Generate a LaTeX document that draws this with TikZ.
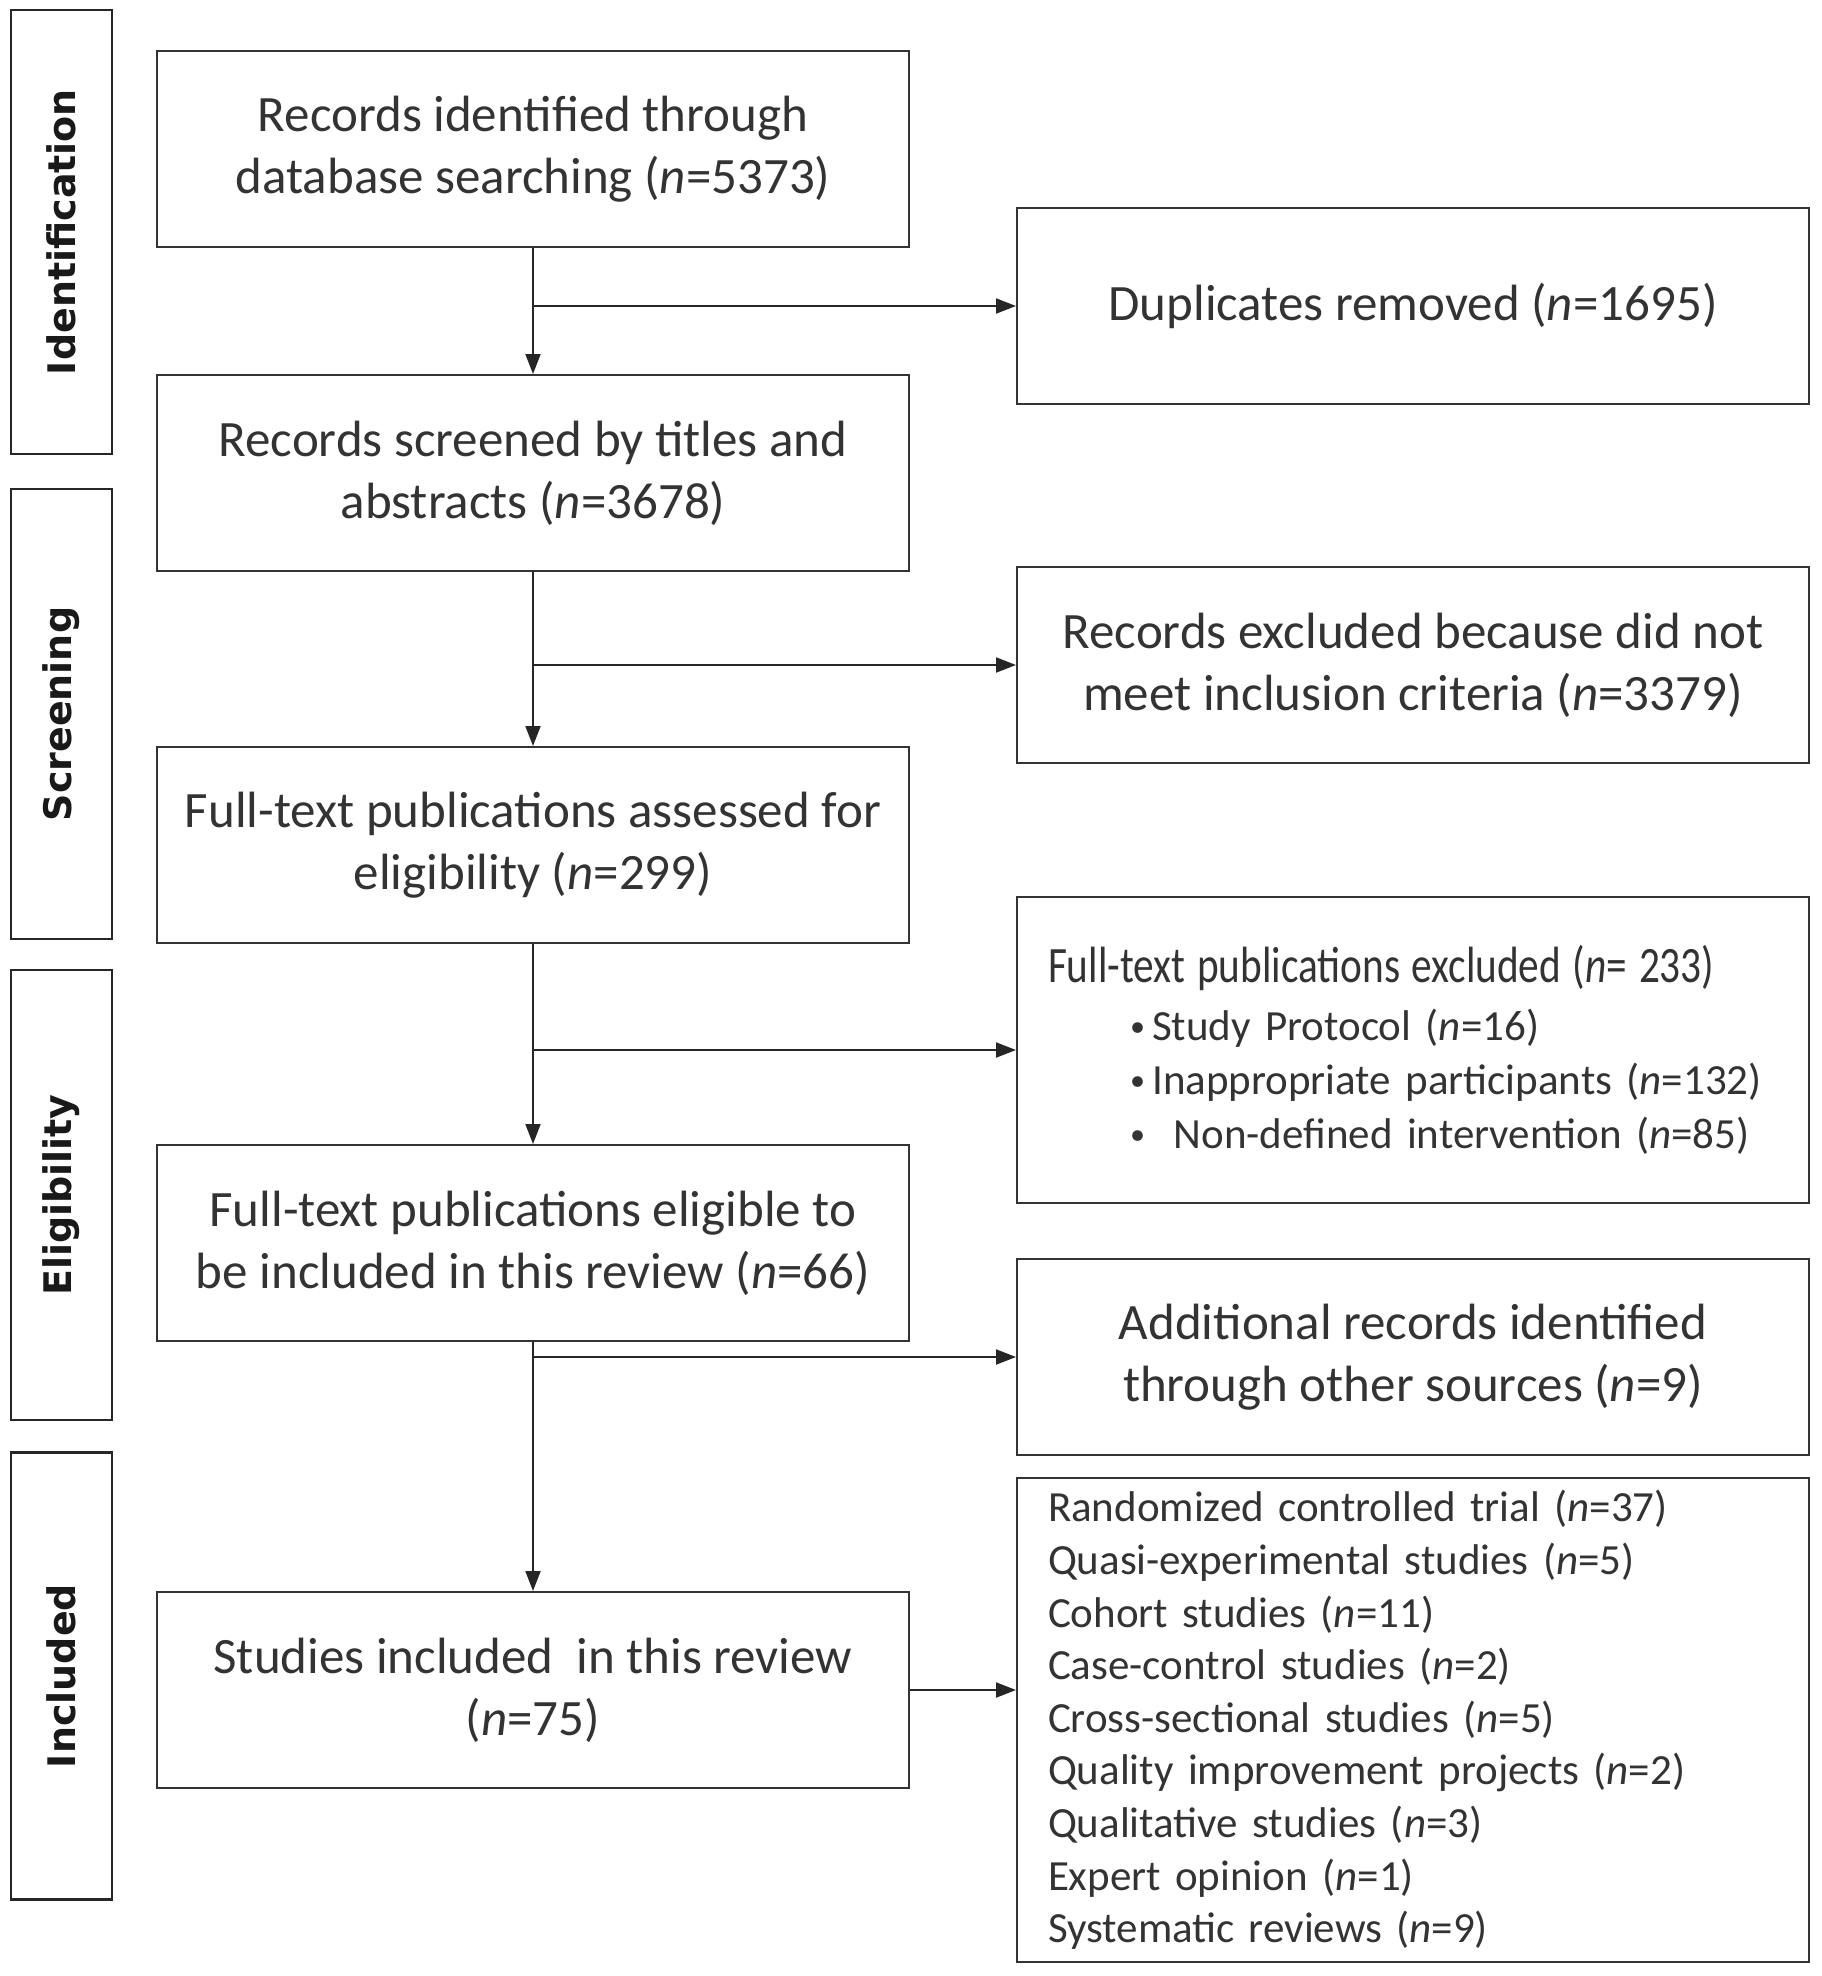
\documentclass[tikz,border=0pt]{standalone}
\usepackage{fontspec}
\setmainfont{Carlito}
\newfontfamily\stagefont{DejaVu Sans}
\usetikzlibrary{arrows.meta, positioning}

\newcommand{\smallbullet}{\raisebox{0.1em}{\scalebox{0.7}{•}}}

\begin{document}
\begin{tikzpicture}[x=1pt, y=-1pt, node distance=300pt, on grid, auto,
    box/.style={draw=black!80, line width=2pt, minimum width=752pt, minimum height=196pt,
        align=center, text=black!80, font=\fontsize{51}{62}\selectfont},
    side/.style={box, minimum width=792pt},
    stage/.style={draw=black!85, line width=2.5pt, minimum height=101pt, rotate=90,
        text=black!90, font=\stagefont\bfseries\fontsize{38}{46}\selectfont},
    flow/.style={-{Triangle[length=20pt, width=15pt]}, draw=black!85, line width=2pt}]
    \useasboundingbox (0,0) rectangle (1821,1976);

    % stages
    \node [stage, minimum width=444pt] (s_id) at (61.5,232) {Identification};
    \node [stage, minimum width=450pt] (s_sc) at (61.5,714) {Screening};
    \node [stage, minimum width=450pt] (s_el) at (61.5,1195) {Eligibility};
    \node [stage, minimum width=447pt] (s_in) at (61.5,1676) {Included};

    % main column
    \node [box] (q_rec) at (533,149) {Records identified through\\database searching (\textit{n}=5373)};
    \node [box] [below=324pt of q_rec] (q_scr) {Records screened by titles and\\abstracts (\textit{n}=3678)};
    \node [box] [below=372pt of q_scr] (q_ft) {Full-text publications assessed for\\eligibility (\textit{n}=299)};
    \node [box] [below=398pt of q_ft] (q_elg) {Full-text publications eligible to\\be included in this review (\textit{n}=66)};
    \node [box] [below=447pt of q_elg] (q_inc) {Studies included\ \ in this review\\(\textit{n}=75)};

    % branch points
    \coordinate [below=157pt of q_rec] (b_1);
    \coordinate [below=192pt of q_scr] (b_2);
    \coordinate [below=205pt of q_ft] (b_3);
    \coordinate [below=114pt of q_elg] (b_4);

    % side column
    \node [side] [right=880pt of b_1, anchor=center] (q_dup) {Duplicates removed (\textit{n}=1695)};
    \node [side] [right=880pt of b_2, anchor=center] (q_exc) {Records excluded because did not\\meet inclusion criteria (\textit{n}=3379)};
    \node [side, minimum height=306pt, text width=730pt, align=left, font=\fontsize{43}{54}\selectfont]
        [right=880pt of b_3, anchor=center] (q_ftx)
        {{\fontsize{51}{62}\selectfont\scalebox{0.81}[1]{Full-text publications excluded (\textit{n}= 233)}}\\[4pt]
        \hspace*{82pt}\smallbullet\,Study Protocol (\textit{n}=16)\\
        \hspace*{82pt}\smallbullet\,Inappropriate participants (\textit{n}=132)\\
        \hspace*{82pt}\smallbullet\ \ Non-defined intervention (\textit{n}=85)};
    \node [side] [right=880pt of b_4, anchor=center] (q_add) {Additional records identified\\through other sources (\textit{n}=9)};
    \node [side, minimum height=484pt, text width=730pt, align=left, font=\fontsize{43}{52.6}\selectfont]
        [right=880pt of q_inc, yshift=-30pt] (q_typ)
        {Randomized controlled trial (\textit{n}=37)\\
        Quasi-experimental studies (\textit{n}=5)\\
        Cohort studies (\textit{n}=11)\\
        Case-control studies (\textit{n}=2)\\
        Cross-sectional studies (\textit{n}=5)\\
        Quality improvement projects (\textit{n}=2)\\
        Qualitative studies (\textit{n}=3)\\
        Expert opinion (\textit{n}=1)\\
        Systematic reviews (\textit{n}=9)};

    \path
        (q_rec) edge [flow] (q_scr)
        (q_scr) edge [flow] (q_ft)
        (q_ft) edge [flow] (q_elg)
        (q_elg) edge [flow] (q_inc)
        (b_1) edge [flow] (q_dup)
        (b_2) edge [flow] (q_exc)
        (b_3) edge [flow] (q_ftx)
        (b_4) edge [flow] (q_add);
    \draw[flow] (q_inc.east) -- (q_inc.east -| q_typ.west);
\end{tikzpicture}
\end{document}
